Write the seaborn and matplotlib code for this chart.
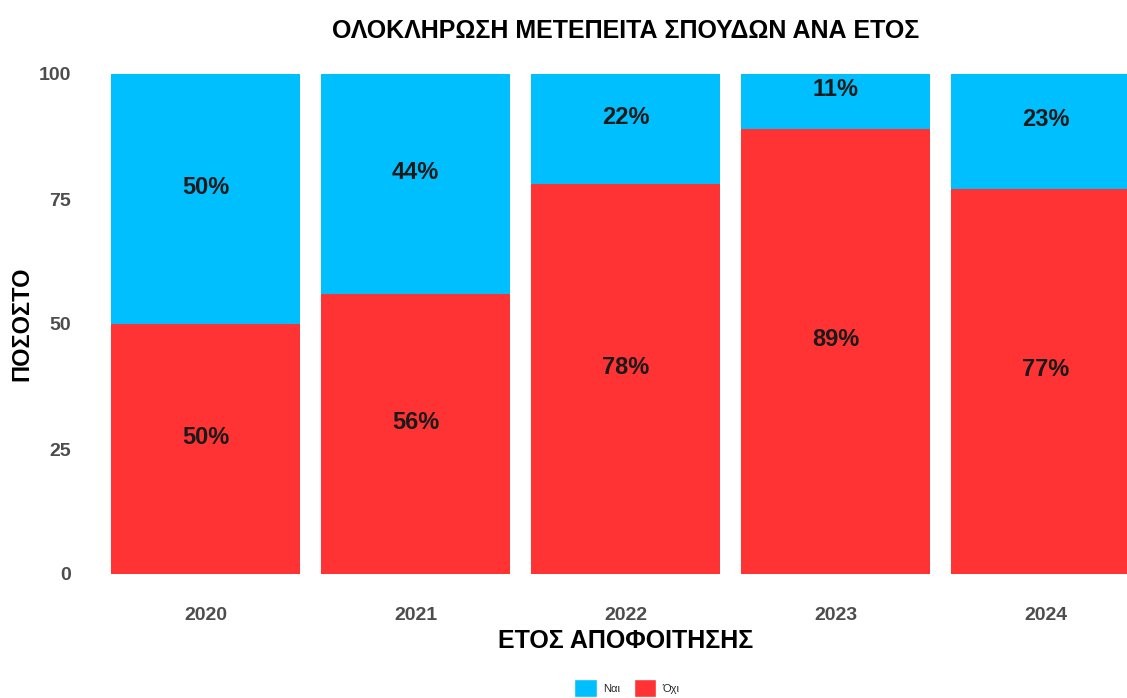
import matplotlib
matplotlib.use("Agg")
import matplotlib.pyplot as plt
from matplotlib.patches import Patch
import seaborn as sns
import pandas as pd

years = ["2020", "2021", "2022", "2023", "2024"]
nai = [50, 44, 22, 11, 23]
ochi = [50, 56, 78, 89, 77]

BLUE = "#00BFFF"
RED = "#FF3333"

df = pd.DataFrame({"year": years, "nai": nai, "ochi": ochi})
df["total"] = df["nai"] + df["ochi"]

sns.set_theme(style="white")
plt.rcParams["font.family"] = ["Liberation Sans", "DejaVu Sans"]

fig = plt.figure(figsize=(11.27, 6.98), dpi=100)
# panel is wider than the picture: the last bar is cut off on the right
ax = fig.add_axes([79.5 / 1127, 99 / 698, 1092 / 1127, 550 / 698])

# stacked bars: full height in blue, Όχι on top of it in red
sns.barplot(data=df, x="year", y="total", color=BLUE, width=0.9,
            saturation=1, linewidth=0, ax=ax)
sns.barplot(data=df, x="year", y="ochi", color=RED, width=0.9,
            saturation=1, linewidth=0, ax=ax)

for i, row in df.iterrows():
    ax.text(i, row["ochi"] + row["nai"] / 2, f"{row['nai']}%", ha="center",
            va="bottom", fontsize=17, fontweight="bold", color="#1a1a1a")
    ax.text(i, row["ochi"] / 2, f"{row['ochi']}%", ha="center",
            va="bottom", fontsize=17, fontweight="bold", color="#1a1a1a")

ax.set_xlim(-0.6, 4.6)
ax.set_ylim(-5, 105)
ax.set_yticks([0, 25, 50, 75, 100])
ax.tick_params(axis="both", length=0, labelsize=14, labelcolor="#4D4D4D", pad=6)
for lab in ax.get_xticklabels() + ax.get_yticklabels():
    lab.set_fontweight("bold")
for s in ax.spines.values():
    s.set_visible(False)
ax.grid(False)

ax.set_xlabel("ΕΤΟΣ ΑΠΟΦΟΙΤΗΣΗΣ", fontsize=18, fontweight="bold",
              color="black", labelpad=3)
ax.set_ylabel("ΠΟΣΟΣΤΟ", fontsize=17, fontweight="bold", color="black",
              labelpad=4)
ax.set_title("ΟΛΟΚΛΗΡΩΣΗ ΜΕΤΕΠΕΙΤΑ ΣΠΟΥΔΩΝ ΑΝΑ ΕΤΟΣ", fontsize=18,
             fontweight="bold", color="black", pad=8)

handles = [Patch(facecolor=BLUE, label="Ναι"), Patch(facecolor=RED, label="Όχι")]
fig.legend(handles=handles, loc="center", bbox_to_anchor=(627 / 1127, 10 / 698),
           ncol=2, frameon=False, fontsize=8, handlelength=2.0,
           handleheight=2.0, handletextpad=0.6, columnspacing=1.2)

fig.savefig("out.png", dpi=100)
